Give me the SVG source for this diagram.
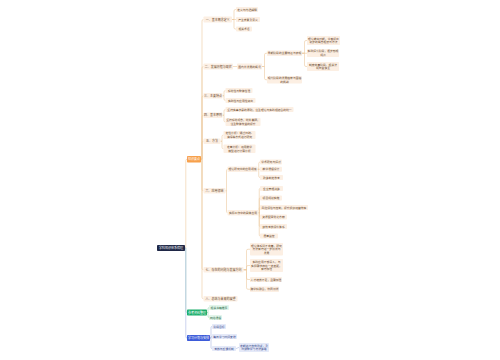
<svg xmlns="http://www.w3.org/2000/svg" width="500" height="360" viewBox="0 0 500 360">
<style>
text{font-family:"Noto Sans CJK SC","Noto Sans",sans-serif;dominant-baseline:central;text-anchor:middle}
.p rect{fill:#fcefe3}
.p text{fill:#6b4a2e;font-size:2.8px}
.l2 text{font-size:3px}
.g rect{fill:#e2f5ea}
.g text{fill:#2a6a48;font-size:2.8px}
.b rect{fill:#e4e9f8}
.b text{fill:#34478a;font-size:2.8px}
.w text{fill:#fff;font-size:3px}
.co path{fill:none;stroke:#eccaa0;stroke-width:0.6}
.cg path{fill:none;stroke:#9dd7b6;stroke-width:0.6}
.cb path{fill:none;stroke:#a8b6e0;stroke-width:0.6}
</style>
<rect width="500" height="360" fill="#fff"/>
<g id="connectors">
<g class="co">
<path d="M185,248H185.8V160.5Q185.8,159.25 187,159.25"/>
<path d="M201,159.25H202V21Q202,19.5 203.5,19.5"/>
<path d="M201,159.25H202V68Q202,66.5 203.5,66.5"/>
<path d="M201,159.25H202V97.25Q202,95.75 203.5,95.75"/>
<path d="M201,159.25H202V116.75Q202,115.25 203.5,115.25"/>
<path d="M201,159.25H202V142.75Q202,141.25 203.5,141.25"/>
<path d="M201,159.25H202V189.25Q202,190.75 203.5,190.75"/>
<path d="M201,159.25H202V268.25Q202,269.75 203.5,269.75"/>
<path d="M201,159.25H202V297.25Q202,298.75 203.5,298.75"/>
<path d="M232,19.5H234V11Q234,9.5 235.5,9.5H236"/>
<path d="M232,19.5H236"/>
<path d="M232,19.5H234V27.5Q234,29 235.5,29H236"/>
<path d="M233,66.5H237"/>
<path d="M262,66.5H264.5V54.75Q264.5,53.25 266,53.25H267"/>
<path d="M262,66.5H264.5V78.25Q264.5,79.75 266,79.75H267"/>
<path d="M302,53.25H304.5V42Q304.5,40.5 306,40.5H307"/>
<path d="M302,53.25H307"/>
<path d="M302,53.25H304.5V65Q304.5,66.5 306,66.5H307"/>
<path d="M222.5,95.75H224V92Q224,90.5 225.5,90.5"/>
<path d="M222.5,95.75H224V99Q224,100.5 225.5,100.5"/>
<path d="M222.5,115.25H224V111Q224,109.5 225.5,109.5"/>
<path d="M222.5,115.25H224V120.5Q224,122 225.5,122"/>
<path d="M220.5,141.25H222V136.5Q222,135 223.5,135"/>
<path d="M220.5,141.25H222V147.25Q222,148.75 223.5,148.75"/>
<path d="M225.5,190.75H226.5V170.75Q226.5,169.25 227.5,169.25"/>
<path d="M225.5,190.75H226.5V211.25Q226.5,212.75 227.5,212.75"/>
<path d="M257.5,169.25H258.75V163.5Q258.75,162 260,162"/>
<path d="M257.5,169.25H260"/>
<path d="M257.5,169.25H258.75V176Q258.75,177.5 260,177.5"/>
<path d="M258.5,212.75H259.25V189.5Q259.25,188.5 260,188.5"/>
<path d="M258.5,212.75H259.25V199Q259.25,198 260,198"/>
<path d="M258.5,212.75H259.25V208.5Q259.25,207.5 260,207.5"/>
<path d="M258.5,212.75H259.25V216Q259.25,217 260,217"/>
<path d="M258.5,212.75H259.25V225.5Q259.25,226.5 260,226.5"/>
<path d="M258.5,212.75H259.25V235Q259.25,236 260,236"/>
<path d="M243.5,269.75H246.5V250.75Q246.5,249.25 248,249.25H250"/>
<path d="M243.5,269.75H246.5V267Q246.5,265.5 248,265.5H250"/>
<path d="M243.5,269.75H246.5V278Q246.5,279.5 248,279.5H250"/>
<path d="M243.5,269.75H246.5V287.75Q246.5,289.25 248,289.25H250"/>
</g>
<g class="cg">
<path d="M185,248H185.8V311Q185.8,312.5 187,312.5"/>
<path d="M207,312.5H208V309Q208,307.5 209,307.5"/>
<path d="M207,312.5H208V316Q208,317.5 209,317.5"/>
</g>
<g class="cb">
<path d="M185,248H185.8V336.5Q185.8,338 187,338"/>
<path d="M210,338H211V327.5Q211,326.5 212,326.5"/>
<path d="M210,338H211V337.5Q211,336.5 212,336.5"/>
<path d="M210,338H211V347.5Q211,348.5 212,348.5"/>
<path d="M236,348.5C237.5,348.5 237.5,347.5 239,347.5"/>
</g>
</g>

<g id="root" class="w"><rect x="157" y="245" width="28" height="6" rx="0.8" fill="#1f2746"/><text x="171" y="248">学科知识体系梳理</text></g>
<g id="n-main" class="w"><rect x="187" y="156" width="14" height="6.5" rx="0.8" fill="#f7a04b"/><text x="194" y="159.25">知识要点</text></g>
<g id="n-ref" class="w"><rect x="187" y="309.5" width="20" height="6" rx="0.8" fill="#1aad6b"/><text x="197" y="312.5">参考资料整理</text></g>
<g id="n-plan" class="w"><rect x="187" y="335" width="23" height="6" rx="0.8" fill="#3d5bd9"/><text x="198.5" y="338">学习计划与安排</text></g>

<g id="a1" class="p l2"><rect x="203.5" y="16.5" width="28.5" height="6" rx="0.8"/><text x="217.75" y="19.5">一、基本概念定义</text></g>
<g id="a1a" class="p"><rect x="236" y="7" width="22" height="5" rx="0.8"/><text x="247" y="9.5">定义与内涵解释</text></g>
<g id="a1b" class="p"><rect x="236" y="17" width="24" height="5" rx="0.8"/><text x="248" y="19.5">产生背景及意义</text></g>
<g id="a1c" class="p"><rect x="236" y="26.5" width="16" height="5" rx="0.8"/><text x="244" y="29">相关术语</text></g>

<g id="a2" class="p l2"><rect x="203.5" y="63.5" width="29.5" height="6" rx="0.8"/><text x="218.25" y="66.5">二、发展历程与现状</text></g>
<g id="a2a" class="p"><rect x="237" y="63.5" width="25" height="6" rx="0.8"/><text x="249.5" y="66.5">国内外发展的概况</text></g>
<g id="a2a1" class="p"><rect x="267" y="50.5" width="35" height="5.5" rx="0.8"/><text x="284.5" y="53.25">早期阶段的主要特征与表现</text></g>
<g id="a2a1a" class="p"><rect x="307" y="36" width="33" height="9" rx="0.8"/><text x="323.5" y="38.7">理论萌芽时期，学者提出</text><text x="323.5" y="42.3">初步的概念框架与方法</text></g>
<g id="a2a1b" class="p"><rect x="307" y="49" width="32" height="8" rx="0.8"/><text x="323" y="51.2">实践探索阶段，逐步形成</text><text x="323" y="54.8">规范</text></g>
<g id="a2a1c" class="p"><rect x="307" y="62" width="32" height="9" rx="0.8"/><text x="323" y="64.7">制度完善阶段，相关法</text><text x="323" y="68.3">规日益健全</text></g>
<g id="a2a2" class="p"><rect x="267" y="76" width="35" height="7.5" rx="0.8"/><text x="284.5" y="77.95">现代阶段的发展趋势与面临</text><text x="284.5" y="81.55">的挑战</text></g>

<g id="a3" class="p l2"><rect x="203.5" y="93" width="19" height="5.5" rx="0.8"/><text x="213" y="95.75">三、主要特点</text></g>
<g id="a3a" class="p"><rect x="225.5" y="88" width="27" height="5" rx="0.8"/><text x="239" y="90.5">系统性与整体性强</text></g>
<g id="a3b" class="p"><rect x="225.5" y="98" width="30" height="5" rx="0.8"/><text x="240.5" y="100.5">实践性与应用性突出</text></g>

<g id="a4" class="p l2"><rect x="203.5" y="112.5" width="19" height="5.5" rx="0.8"/><text x="213" y="115.25">四、基本原则</text></g>
<g id="a4a" class="p"><rect x="225.5" y="107" width="68" height="5" rx="0.8"/><text x="259.5" y="109.5">坚持实事求是的原则，注重理论与实践相结合的统一</text></g>
<g id="a4b" class="p"><rect x="225.5" y="118" width="35" height="8" rx="0.8"/><text x="243" y="120.2">坚持系统观念，统筹兼顾，</text><text x="243" y="123.8">注重整体效益的提升</text></g>

<g id="a5" class="p l2"><rect x="203.5" y="138.5" width="17" height="5.5" rx="0.8"/><text x="212" y="141.25">五、方法</text></g>
<g id="a5a" class="p"><rect x="223.5" y="131" width="32" height="8" rx="0.8"/><text x="239.5" y="133.2">定性分析：通过归纳、</text><text x="239.5" y="136.8">演绎等方式进行研究</text></g>
<g id="a5b" class="p"><rect x="223.5" y="144.5" width="32" height="8.5" rx="0.8"/><text x="239.5" y="146.95">定量分析：运用数学</text><text x="239.5" y="150.55">模型进行计算分析</text></g>

<g id="a6" class="p l2"><rect x="203.5" y="188" width="22" height="5.5" rx="0.8"/><text x="214.5" y="190.75">六、应用领域</text></g>
<g id="a6a" class="p"><rect x="227.5" y="166.5" width="30" height="5.5" rx="0.8"/><text x="242.5" y="169.25">理论研究中的应用领域</text></g>
<g id="a6a1" class="p"><rect x="260" y="159.5" width="22" height="5" rx="0.8"/><text x="271" y="162">学术研究与探讨</text></g>
<g id="a6a2" class="p"><rect x="260" y="166.75" width="22" height="5" rx="0.8"/><text x="271" y="169.25">教学课程设计</text></g>
<g id="a6a3" class="p"><rect x="260" y="175" width="23" height="5" rx="0.8"/><text x="271.5" y="177.5">政策制定参考</text></g>
<g id="a6b" class="p"><rect x="227.5" y="210" width="31" height="5.5" rx="0.8"/><text x="243" y="212.75">实际工作中的具体应用</text></g>
<g id="a6b1" class="p"><rect x="260" y="186" width="23" height="5" rx="0.8"/><text x="271.5" y="188.5">企业管理决策</text></g>
<g id="a6b2" class="p"><rect x="260" y="195.5" width="22" height="5" rx="0.8"/><text x="271" y="198">项目规划实施</text></g>
<g id="a6b3" class="p"><rect x="260" y="205" width="48" height="5" rx="0.8"/><text x="284" y="207.5">风险评估与控制，提升组织运营效率</text></g>
<g id="a6b4" class="p"><rect x="260" y="214.5" width="27" height="5" rx="0.8"/><text x="273.5" y="217">资源配置优化方案</text></g>
<g id="a6b5" class="p"><rect x="260" y="224" width="27" height="5" rx="0.8"/><text x="273.5" y="226.5">绩效考核评价体系</text></g>
<g id="a6b6" class="p"><rect x="260" y="233.5" width="18" height="5" rx="0.8"/><text x="269" y="236">质量监控</text></g>

<g id="a7" class="p l2"><rect x="203.5" y="267" width="40" height="5.5" rx="0.8"/><text x="223.5" y="269.75">七、存在的问题与发展方向</text></g>
<g id="a7a" class="p"><rect x="250" y="243" width="33" height="12.5" rx="0.8"/><text x="266.5" y="245.65">理论体系尚不完善，研究</text><text x="266.5" y="249.25">方法有待进一步创新与</text><text x="266.5" y="252.85">发展</text></g>
<g id="a7b" class="p"><rect x="250" y="259" width="33" height="13" rx="0.8"/><text x="266.5" y="261.9">实践应用不够深入，与</text><text x="266.5" y="265.5">实际需求存在一定差距，</text><text x="266.5" y="269.1">有待加强</text></g>
<g id="a7c" class="p"><rect x="250" y="277" width="32" height="5" rx="0.8"/><text x="266" y="279.5">人才培养不足，亟需加强</text></g>
<g id="a7d" class="p"><rect x="250" y="286.5" width="29" height="5.5" rx="0.8"/><text x="264.5" y="289.25">跨学科融合，协同创新</text></g>

<g id="a8" class="p l2"><rect x="203.5" y="296" width="34" height="5.5" rx="0.8"/><text x="220.5" y="298.75">八、总结与未来的展望</text></g>

<g id="g1" class="g"><rect x="209" y="305" width="20" height="5" rx="0.8"/><text x="219" y="307.5">相关书籍推荐</text></g>
<g id="g2" class="g"><rect x="209" y="315" width="13" height="5" rx="0.8"/><text x="215.5" y="317.5">网络课程</text></g>

<g id="b1" class="b"><rect x="212" y="324" width="14" height="5" rx="0.8"/><text x="219" y="326.5">阶段目标</text></g>
<g id="b2" class="b"><rect x="212" y="334" width="25" height="5" rx="0.8"/><text x="224.5" y="336.5">每日学习时间安排</text></g>
<g id="b3" class="b"><rect x="212" y="346" width="24" height="5" rx="0.8"/><text x="224" y="348.5">考核与反馈机制</text></g>
<g id="b3a" class="b"><rect x="239" y="343" width="30" height="9" rx="0.8"/><text x="254" y="345.7">定期进行自我测试，及</text><text x="254" y="349.3">时调整学习方法策略</text></g>
</svg>
